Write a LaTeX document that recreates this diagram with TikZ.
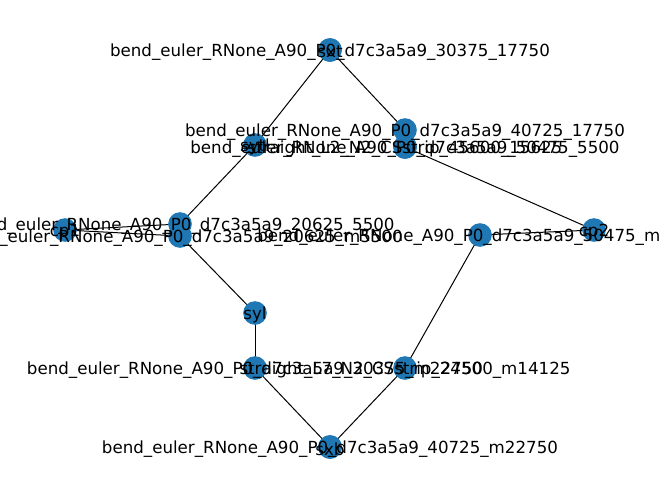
\documentclass[tikz,border=0pt]{standalone}
\usepackage{fontspec}
\setmainfont{DejaVu Sans}
\usepackage{xcolor}
\usetikzlibrary{backgrounds}
\definecolor{tabblue}{HTML}{1F77B4}
\tikzset{dot/.style={circle,fill=tabblue,inner sep=0pt,minimum size=17pt},
  lbl/.style={inner sep=0pt,yshift=-1.5pt,font=\fontsize{12}{14}\selectfont},
  edge/.style={line width=0.72pt,black}}

\begin{document}
\begin{tikzpicture}[x=0.72pt,y=-0.72pt]
\useasboundingbox (0,0) rectangle (660,499);
\clip (0,0) rectangle (660,499);
% graph nodes
\foreach \n/\x/\y in {cp1/65/230,bA/180/224,bB/180/236,sytl/255/145,bC/330/50,sxt/330/50,
  bD/405/130,stA/405/147,bE/405/147,cp2/594/230,bF/480/235,stB/405/368,
  sxb/330/447,bG/330/447,bH/255/368,syl/255/313}
  \node[dot] (\n) at (\x,\y) {};
% edges behind the nodes
\begin{scope}[on background layer]
\foreach \a/\b in {cp1/bA,cp1/bB,bA/sytl,sytl/bC,bC/sxt,sxt/bD,bD/stA,stA/bE,bE/cp2,
  cp2/bF,bF/stB,stB/sxb,sxb/bG,bG/bH,bH/syl,syl/bB}
  \draw[edge] (\a.center) -- (\b.center);
\end{scope}
% labels on top
\foreach \n/\t in {cp1/cp1,cp2/cp2,sytl/sytl,sxt/sxt,syl/syl,sxb/sxb,
  bA/bend\_euler\_RNone\_A90\_P0\_d7c3a5a9\_20625\_5500,
  bB/bend\_euler\_RNone\_A90\_P0\_d7c3a5a9\_20625\_m5500,
  bC/bend\_euler\_RNone\_A90\_P0\_d7c3a5a9\_30375\_17750,
  bD/bend\_euler\_RNone\_A90\_P0\_d7c3a5a9\_40725\_17750,
  bE/bend\_euler\_RNone\_A90\_P0\_d7c3a5a9\_50475\_5500,
  stA/straight\_L2\_N2\_CSstrip\_45600\_15625,
  bF/bend\_euler\_RNone\_A90\_P0\_d7c3a5a9\_50475\_m5500,
  stB/straight\_L7\_N2\_CSstrip\_24500\_m14125,
  bG/bend\_euler\_RNone\_A90\_P0\_d7c3a5a9\_40725\_m22750,
  bH/bend\_euler\_RNone\_A90\_P0\_d7c3a5a9\_30375\_m22750}
  \node[lbl] at (\n) {\t};
\end{tikzpicture}
\end{document}
